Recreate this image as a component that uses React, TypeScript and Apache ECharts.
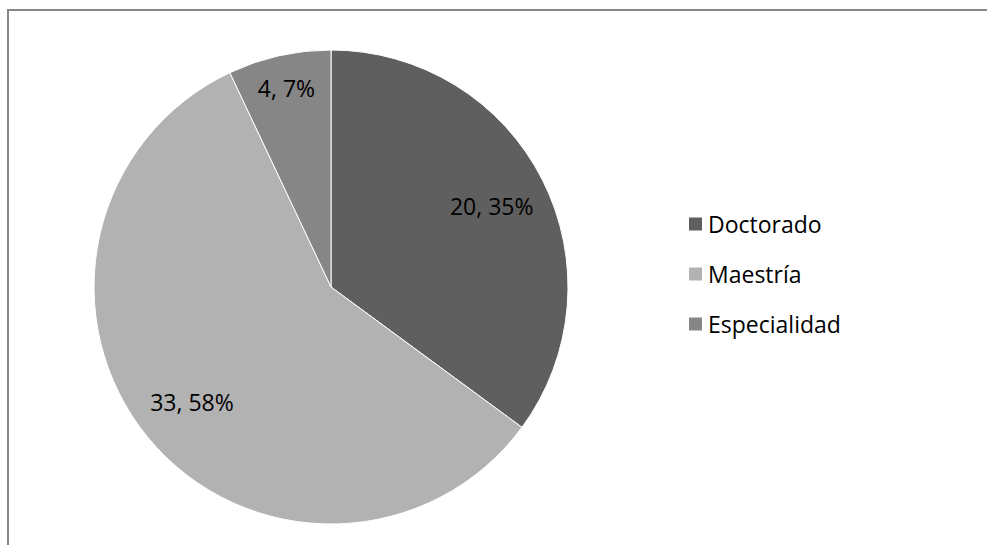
import React, { useEffect, useRef } from "react";
import * as echarts from "echarts";

const categories = ["Doctorado", "Maestría", "Especialidad"];
const values = [20, 33, 4];
const colors = ["#5f5f5f", "#b2b2b2", "#868686"];

const W = 987;
const H = 545;
const CX = 331;
const CY = 287;
const R = 237;

export default function App() {
  const ref = useRef<HTMLDivElement>(null);
  useEffect(() => {
    if (!ref.current) return;
    const chart = echarts.init(ref.current, null, { renderer: "svg", width: W, height: H });
    const total = values.reduce((a, b) => a + b, 0);
    const mids: number[] = [];
    let acc = 0;
    values.forEach((v) => {
      const start = 90 - (acc / total) * 360;
      acc += v;
      const end = 90 - (acc / total) * 360;
      mids.push((start + end) / 2);
    });
    const font = "'Open Sans', 'Noto Sans', sans-serif";
    chart.setOption({
      animation: false,
      backgroundColor: "#ffffff",
      graphic: [
        {
          type: "rect",
          shape: { x: 8, y: 10, width: 1000, height: 600 },
          style: { fill: "none", stroke: "#868686", lineWidth: 2 },
          silent: true,
          z: 0,
        },
      ],
      legend: {
        orient: "vertical",
        left: 682,
        top: 207,
        itemWidth: 15,
        itemHeight: 15,
        itemGap: 26,
        icon: "rect",
        data: categories,
        textStyle: { fontFamily: font, fontSize: 23, color: "#000", lineHeight: 24, padding: [0, 0, 0, 0] },
        selectedMode: false,
      },
      series: [
        {
          type: "pie",
          center: [CX, CY],
          radius: R,
          startAngle: 90,
          clockwise: true,
          avoidLabelOverlap: false,
          silent: true,
          itemStyle: { borderColor: "#ffffff", borderWidth: 1 },
          label: {
            show: true,
            position: "inside",
            formatter: (p: any) => `${p.value}, ${Math.round(p.percent)}%`,
            fontFamily: font,
            fontSize: 23,
            color: "#000",
            align: "center",
            verticalAlign: "middle",
          },
          labelLine: { show: false },
          labelLayout: (p: any) => {
            const i = p.dataIndex;
            const frac = values[i] / total;
            const f = frac < 0.1 ? 0.86 : 0.76;
            const a = (mids[i] * Math.PI) / 180;
            return { x: CX + f * R * Math.cos(a), y: CY - f * R * Math.sin(a) };
          },
          data: categories.map((c, i) => ({ name: c, value: values[i], itemStyle: { color: colors[i] } })),
        },
      ],
    });
    return () => chart.dispose();
  }, []);
  return (
    <div
      ref={ref}
      style={{ position: "absolute", left: 0, top: 0, width: W, height: H }}
    />
  );
}
